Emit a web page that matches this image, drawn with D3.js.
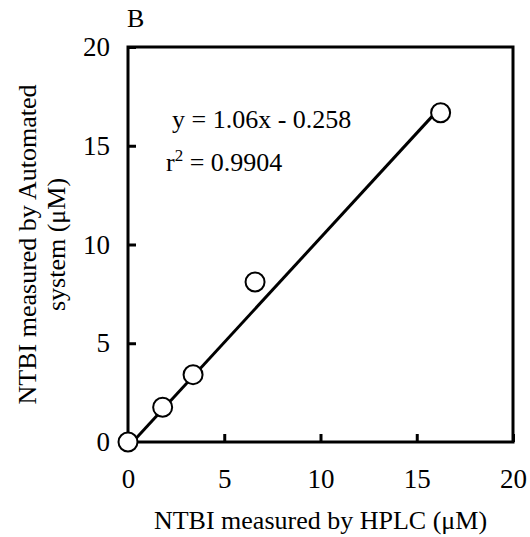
<!DOCTYPE html>
<html>
<head>
<meta charset="utf-8">
<script src="https://cdn.jsdelivr.net/npm/d3@7"></script>
<style>
  body { margin: 0; background: #fff; }
  text { font-family: "Liberation Serif", "Times New Roman", serif; fill: #000; }
</style>
</head>
<body>
<div id="chart"></div>
<script>
// Data
const hplc = [0, 1.8, 3.38, 6.6, 16.24];
const automated = [0, 1.76, 3.41, 8.1, 16.67];
const xTicks = [0, 5, 10, 15, 20];
const yTicks = [0, 5, 10, 15, 20];
const slope = 1.06;
const intercept = -0.258;

const width = 530;
const height = 537;
const margin = { top: 47, right: 17, bottom: 95, left: 128 };
const w = width - margin.left - margin.right;
const h = height - margin.top - margin.bottom;

const svg = d3.select("#chart")
    .append("svg")
    .attr("width", width)
    .attr("height", height);

const g = svg.append("g")
    .attr("transform", `translate(${margin.left},${margin.top})`);

const x = d3.scaleLinear().domain([0, 20]).range([0, w]);
const y = d3.scaleLinear().domain([0, 20]).range([h, 0]);

// X axis (ticks point inward)
const xAxis = g.append("g")
    .attr("transform", `translate(0,${h})`)
    .call(d3.axisBottom(x).tickValues(xTicks).tickSizeInner(-8).tickSizeOuter(0).tickPadding(27));
xAxis.select(".domain").remove();
xAxis.selectAll("line").attr("stroke", "#000").attr("stroke-width", 3);
xAxis.selectAll("text").style("font-size", "27px").attr("font-family", null);

// Y axis
const yAxis = g.append("g")
    .call(d3.axisLeft(y).tickValues(yTicks).tickSizeInner(-8).tickSizeOuter(0).tickPadding(18));
yAxis.select(".domain").remove();
yAxis.selectAll("line").attr("stroke", "#000").attr("stroke-width", 3);
yAxis.selectAll("text").style("font-size", "27px").attr("font-family", null);

// Frame
g.append("rect")
    .attr("width", w)
    .attr("height", h)
    .attr("fill", "none")
    .attr("stroke", "#000")
    .attr("stroke-width", 3);

// Regression line
const x0 = -intercept / slope;
const x1 = hplc[hplc.length - 1];
g.append("line")
    .attr("x1", x(x0)).attr("y1", y(slope * x0 + intercept))
    .attr("x2", x(x1)).attr("y2", y(slope * x1 + intercept))
    .attr("stroke", "#000")
    .attr("stroke-width", 3);

// Points
g.selectAll(".pt")
    .data(hplc)
    .enter()
    .append("circle")
    .attr("class", "pt")
    .attr("cx", d => x(d))
    .attr("cy", (d, i) => y(automated[i]))
    .attr("r", 9.5)
    .attr("fill", "#fff")
    .attr("stroke", "#000")
    .attr("stroke-width", 2);

// Equation
g.append("text")
    .attr("x", 44).attr("y", 81)
    .style("font-size", "26px")
    .text("y = 1.06x - 0.258");
const r2 = g.append("text")
    .attr("x", 38).attr("y", 124)
    .style("font-size", "26px");
r2.append("tspan").text("r");
r2.append("tspan").attr("dy", -10).style("font-size", "17px").text("2");
r2.append("tspan").attr("dy", 10).text(" = 0.9904");

// Panel letter
svg.append("text")
    .attr("x", 127).attr("y", 27)
    .style("font-size", "26px")
    .text("B");

// Axis titles
svg.append("text")
    .attr("x", margin.left + w / 2).attr("y", 529)
    .attr("text-anchor", "middle")
    .style("font-size", "26px")
    .text("NTBI measured by HPLC (μM)");

const yl = svg.append("text")
    .attr("transform", `translate(36,${margin.top + h / 2}) rotate(-90)`)
    .attr("text-anchor", "middle")
    .style("font-size", "26px");
yl.append("tspan").attr("x", 0).attr("dy", 0).text("NTBI measured by Automated");
yl.append("tspan").attr("x", 0).attr("dy", 29).text("system (μM)");
</script>
</body>
</html>
